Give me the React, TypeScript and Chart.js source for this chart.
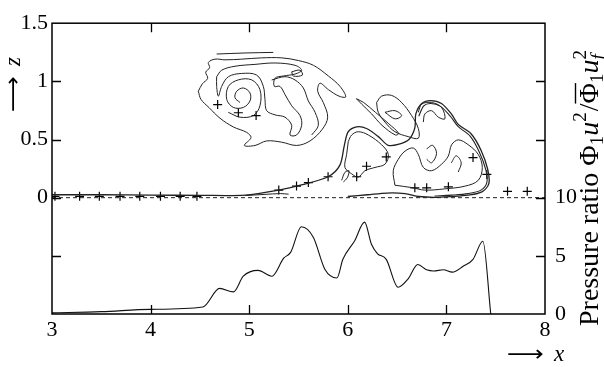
import React, { useEffect, useRef } from 'react';
import { Chart, registerables } from 'chart.js';

Chart.register(...registerables);

type P = [number, number];

// Pressure ratio profile (right axis)
const pressureX = [3.0, 3.5, 4.0, 4.53, 4.7, 4.84, 4.94, 5.09, 5.23, 5.35, 5.42, 5.53, 5.65, 5.77, 5.89, 5.95, 6.07, 6.17, 6.24, 6.3, 6.39, 6.51, 6.61, 6.71, 6.8, 6.87, 6.97, 7.06, 7.17, 7.27, 7.37, 7.45];
const pressureV = [0.1, 0.2, 0.4, 0.6, 2.2, 1.9, 3.25, 3.75, 3.25, 4.8, 5.3, 7.5, 6.6, 3.8, 3.1, 4.7, 6.3, 7.9, 6.0, 5.2, 4.7, 2.3, 3.0, 4.25, 3.8, 3.7, 3.8, 3.6, 4.1, 4.7, 6.25, 0];

// Particle markers (+)
const markerX = [3.03, 3.28, 3.48, 3.69, 3.89, 4.1, 4.3, 4.47, 4.68, 4.89, 5.07, 5.3, 5.48, 5.6, 5.8, 6.09, 6.19, 6.39, 6.68, 6.8, 7.02, 7.27, 7.41, 7.62, 7.82];
const markerZ = [0.012, 0.012, 0.012, 0.012, 0.012, 0.012, 0.012, 0.012, 0.8, 0.73, 0.706, 0.065, 0.1, 0.13, 0.18, 0.18, 0.27, 0.35, 0.085, 0.085, 0.093, 0.345, 0.2, 0.055, 0.055];

// Contour lines (x, z)
const swirlOuter: P[] = [[4.484,0.915],[4.525,0.979],[4.579,1.026],[4.559,1.079],[4.599,1.118],[4.586,1.163],[4.653,1.191],[4.755,1.185],[4.924,1.191],[5.127,1.202],[5.33,1.202],[5.499,1.179],[5.651,1.138],[5.803,1.046],[5.921,0.957],[5.979,0.867],[5.911,0.873],[5.803,0.929],[5.718,0.984],[5.695,0.915],[5.752,0.817],[5.796,0.692],[5.742,0.589],[5.617,0.488],[5.482,0.449],[5.33,0.477],[5.177,0.488],[5.059,0.449],[4.951,0.449],[5.018,0.516],[4.975,0.561],[4.839,0.608],[4.704,0.683],[4.592,0.775],[4.511,0.845],[4.484,0.915]];
const swirlTop: P[] = [[4.67,1.235],[4.958,1.244],[5.245,1.249]];
const swirlInner: P[] = [[4.67,1.04],[4.721,1.096],[4.856,1.13],[5.059,1.146],[5.262,1.158],[5.465,1.138],[5.532,1.096],[5.465,1.063],[5.346,1.046],[5.262,1.027],[5.255,0.957],[5.312,0.957],[5.363,0.887],[5.431,0.79],[5.515,0.706],[5.532,0.622],[5.481,0.539],[5.414,0.539],[5.431,0.622],[5.363,0.692],[5.262,0.712],[5.177,0.748],[5.16,0.845],[5.143,0.957],[5.076,1.054],[4.924,1.068],[4.789,1.04],[4.721,0.957],[4.687,0.873],[4.67,0.957],[4.67,1.04]];
const swirlSpiral: P[] = [[4.907,0.818],[4.856,0.859],[4.873,0.915],[4.941,0.943],[5.008,0.901],[5.008,0.832],[4.941,0.776],[4.839,0.776],[4.772,0.845],[4.789,0.957],[4.89,1.013],[5.025,1.013],[5.109,0.929],[5.109,0.79],[5.042,0.706],[4.907,0.692],[4.788,0.734]];
const swirlArc: P[] = [[5.228,1.012],[5.363,1.04],[5.465,1.012],[5.549,0.943],[5.6,0.831],[5.668,0.734],[5.701,0.622],[5.634,0.539]];
const swirlBlob: P[] = [[5.431,1.082],[5.515,1.096],[5.539,1.054],[5.448,1.046],[5.431,1.082]];
const envelope: P[] = [[3.0,0.025],[3.5,0.025],[4.0,0.022],[4.5,0.02],[4.96,0.022],[5.3,0.065],[5.53,0.11],[5.8,0.18],[5.92,0.28],[5.965,0.45],[6.005,0.567],[6.09,0.609],[6.19,0.595],[6.31,0.525],[6.41,0.45],[6.52,0.46],[6.62,0.5],[6.68,0.6],[6.69,0.72],[6.75,0.81],[6.84,0.835],[6.95,0.81],[7.05,0.72],[7.12,0.63],[7.25,0.55],[7.35,0.41],[7.42,0.24],[7.43,0.12],[7.36,0.05],[7.22,0.022],[7.05,0.01],[6.88,0.003],[6.72,0.01],[6.58,0.035],[6.4,0.04],[6.2,0.025],[6.0,0.01]];
const envelopeInner: P[] = [[6.72,0.7],[6.77,0.79],[6.84,0.81],[6.94,0.785],[7.04,0.7],[7.12,0.61],[7.24,0.53],[7.33,0.4],[7.4,0.24],[7.41,0.13],[7.35,0.065],[7.22,0.035],[7.05,0.022],[6.88,0.015]];
const lowerThin: P[] = [[4.96,0.018],[5.15,0.028],[5.32,0.035],[5.4,0.03]];
const diagLoop: P[] = [[6.087,0.851],[6.161,0.818],[6.28,0.734],[6.415,0.636],[6.516,0.553],[6.482,0.539],[6.347,0.622],[6.242,0.72],[6.141,0.804],[6.087,0.851]];
const upperLoop: P[] = [[6.292,0.818],[6.343,0.873],[6.445,0.879],[6.546,0.818],[6.647,0.706],[6.715,0.595],[6.715,0.511],[6.613,0.525],[6.478,0.567],[6.377,0.65],[6.309,0.734],[6.292,0.818]];
const innerEye: P[] = [[6.377,0.734],[6.478,0.748],[6.546,0.706],[6.478,0.678],[6.377,0.734]];
const hook: P[] = [[6.715,0.734],[6.749,0.804],[6.85,0.818],[6.951,0.776],[6.985,0.678],[6.918,0.692],[6.85,0.748],[6.782,0.72],[6.766,0.65]];
const humpInner: P[] = [[6.005,0.483],[6.039,0.539],[6.107,0.567],[6.208,0.539],[6.343,0.455],[6.411,0.372],[6.377,0.288],[6.276,0.26],[6.174,0.232],[6.107,0.177],[6.039,0.205],[5.971,0.26],[5.988,0.372],[6.005,0.483]];
const blobInner: P[] = [[6.478,0.107],[6.647,0.087],[6.782,0.065],[6.985,0.076],[7.188,0.099],[7.323,0.149],[7.364,0.26],[7.323,0.372],[7.222,0.455],[7.121,0.497],[7.053,0.455],[7.019,0.358],[6.951,0.288],[6.85,0.232],[6.766,0.26],[6.715,0.372],[6.664,0.427],[6.58,0.4],[6.512,0.33],[6.461,0.232],[6.478,0.107]];
const smallF: P[] = [[5.938,0.149],[5.971,0.218],[6.012,0.232],[5.995,0.171],[5.955,0.135]];
const squiggleA: P[] = [[6.8,0.42],[6.86,0.45],[6.9,0.38],[6.85,0.3],[6.8,0.33]];
const squiggleB: P[] = [[7.05,0.3],[7.1,0.36],[7.15,0.3],[7.12,0.22]];
const zeroLine: P[] = [[3, 0], [8, 0]];

const xInnerTicks = [4, 5, 6, 7];
const zInnerTicks = [-0.5, 0, 0.5, 1];
const pInnerTicks = [5, 10, 15, 20];

const SERIF = '"Liberation Serif", serif';

function arrow(ctx: CanvasRenderingContext2D, x: number, y: number, len: number, size: number) {
  ctx.save();
  ctx.font = `${size}px "Liberation Serif", "DejaVu Sans"`;
  const w = ctx.measureText('⟶').width;
  ctx.translate(x, y);
  ctx.scale(len / w, 1);
  ctx.textAlign = 'left';
  ctx.textBaseline = 'alphabetic';
  ctx.fillText('⟶', 0, 0);
  ctx.restore();
}

const decor = {
  id: 'decor',
  afterDraw(chart: any) {
    const { ctx, chartArea: a, scales } = chart;
    ctx.save();
    ctx.strokeStyle = '#000';
    ctx.lineWidth = 1.5;
    ctx.strokeRect(a.left, a.top, a.right - a.left, a.bottom - a.top);
    ctx.lineWidth = 1.3;
    const tl = 9;
    ctx.beginPath();
    for (const v of xInnerTicks) {
      const px = Math.round(scales.x.getPixelForValue(v)) + 0.5;
      ctx.moveTo(px, a.bottom); ctx.lineTo(px, a.bottom - tl);
      ctx.moveTo(px, a.top); ctx.lineTo(px, a.top + tl);
    }
    for (const v of zInnerTicks) {
      const py = Math.round(scales.y.getPixelForValue(v)) + 0.5;
      ctx.moveTo(a.left, py); ctx.lineTo(a.left + tl, py);
    }
    for (const v of pInnerTicks) {
      const py = Math.round(scales.y2.getPixelForValue(v)) + 0.5;
      ctx.moveTo(a.right, py); ctx.lineTo(a.right - tl, py);
    }
    ctx.stroke();

    ctx.fillStyle = '#000';
    ctx.textBaseline = 'alphabetic';
    ctx.textAlign = 'left';

    // left title: arrow z (rotated)
    ctx.save();
    ctx.translate(20, 112);
    ctx.rotate(-Math.PI / 2);
    arrow(ctx, 0, 0, 36, 22);
    ctx.font = `italic 23px ${SERIF}`;
    ctx.fillText('z', 46, 0);
    ctx.restore();

    // bottom title: arrow x
    arrow(ctx, 507, 361, 37, 22);
    ctx.font = `italic 23px ${SERIF}`;
    ctx.fillText('x', 554, 361);

    // right title
    ctx.save();
    ctx.translate(598, 326);
    ctx.rotate(-Math.PI / 2);
    let cx = 0;
    const big = 28, small = 19;
    const put = (t: string, font: string, dy = 0) => {
      ctx.font = font;
      ctx.fillText(t, cx, dy);
      const w = ctx.measureText(t).width;
      cx += w;
      return w;
    };
    put('Pressure ratio ', `${big}px ${SERIF}`);
    put('Φ', `${big}px ${SERIF}`);
    put('1', `${small}px ${SERIF}`, 5);
    put('u', `italic ${big}px ${SERIF}`);
    put('2', `${small}px ${SERIF}`, -12);
    cx += 1;
    put('/', `${big}px ${SERIF}`);
    const phiStart = cx;
    const pw = put('Φ', `${big}px ${SERIF}`);
    ctx.lineWidth = 1.4;
    ctx.beginPath();
    ctx.moveTo(phiStart, -22.5);
    ctx.lineTo(phiStart + pw, -22.5);
    ctx.stroke();
    put('1', `${small}px ${SERIF}`, 5);
    put('u', `italic ${big}px ${SERIF}`);
    const sx = cx;
    ctx.font = `${small}px ${SERIF}`;
    ctx.fillText('2', sx, -12);
    ctx.font = `italic ${small}px ${SERIF}`;
    ctx.fillText('f', sx, 6);
    ctx.restore();

    ctx.restore();
  },
};

function contour(pts: P[], width = 1, tension = 0.35) {
  return {
    data: pts.map(([x, y]) => ({ x, y })),
    showLine: true,
    pointRadius: 0,
    borderColor: '#222',
    backgroundColor: '#222',
    borderWidth: width,
    tension,
    yAxisID: 'y',
    xAxisID: 'x',
  };
}

export default function App() {
  const ref = useRef<HTMLCanvasElement | null>(null);
  useEffect(() => {
    if (!ref.current) return;
    const tickFont = { family: SERIF, size: 22 };
    const chart = new Chart(ref.current, {
      type: 'scatter',
      data: {
        datasets: [
          {
            data: zeroLine.map(([x, y]) => ({ x, y })),
            showLine: true,
            pointRadius: 0,
            borderColor: '#222',
            borderWidth: 1,
            borderDash: [4, 3],
            tension: 0,
            yAxisID: 'y',
          },
          contour(swirlOuter),
          contour(swirlTop),
          contour(swirlInner),
          contour(swirlSpiral),
          contour(swirlArc),
          contour(swirlBlob),
          contour(envelope, 1.3, 0.3),
          contour(envelopeInner, 1.1, 0.3),
          contour(lowerThin),
          contour(diagLoop),
          contour(upperLoop),
          contour(innerEye),
          contour(hook),
          contour(humpInner),
          contour(blobInner),
          contour(smallF),
          contour(squiggleA),
          contour(squiggleB),
          {
            data: markerX.map((x, i) => ({ x, y: markerZ[i] })),
            showLine: false,
            pointStyle: 'cross',
            pointRadius: 4.5,
            borderColor: '#000',
            borderWidth: 1.2,
            yAxisID: 'y',
          },
          {
            data: pressureX.map((x, i) => ({ x, y: pressureV[i] })),
            showLine: true,
            pointRadius: 0,
            borderColor: '#111',
            borderWidth: 1.1,
            cubicInterpolationMode: 'monotone',
            yAxisID: 'y2',
          },
        ] as any,
      },
      options: {
        animation: false,
        responsive: false,
        devicePixelRatio: 1,
        events: [],
        layout: { padding: { top: 15, left: 0, right: 0, bottom: 0 } },
        plugins: { legend: { display: false }, tooltip: { enabled: false } },
        scales: {
          x: {
            type: 'linear',
            position: 'bottom',
            min: 3,
            max: 8,
            grid: { display: false, drawTicks: false },
            border: { display: false },
            ticks: { stepSize: 1, font: tickFont, color: '#000', padding: 3, maxRotation: 0, autoSkip: false },
            afterFit: (s: any) => { s.height = 53; },
          },
          y: {
            type: 'linear',
            position: 'left',
            min: -1,
            max: 1.5,
            grid: { display: false, drawTicks: false },
            border: { display: false },
            ticks: {
              stepSize: 0.5,
              autoSkip: false,
              font: tickFont,
              color: '#000',
              padding: 4,
              callback: (v: any) => (Number(v) < 0 ? '' : String(v)),
            },
            afterFit: (s: any) => { s.width = 52; },
          },
          y2: {
            type: 'linear',
            position: 'right',
            min: 0,
            max: 25,
            grid: { display: false, drawTicks: false },
            border: { display: false },
            ticks: {
              stepSize: 5,
              autoSkip: false,
              font: tickFont,
              color: '#000',
              padding: 10,
              callback: (v: any) => (Number(v) > 10 ? '' : String(v)),
            },
            afterFit: (s: any) => { s.width = 59; },
          },
        },
      } as any,
      plugins: [decor],
    });
    return () => chart.destroy();
  }, []);
  return (
    <div style={{ position: 'fixed', left: 0, top: 0, width: 604, height: 367, background: '#fff' }}>
      <canvas ref={ref} width={604} height={367} style={{ width: 604, height: 367, display: 'block' }} />
    </div>
  );
}
